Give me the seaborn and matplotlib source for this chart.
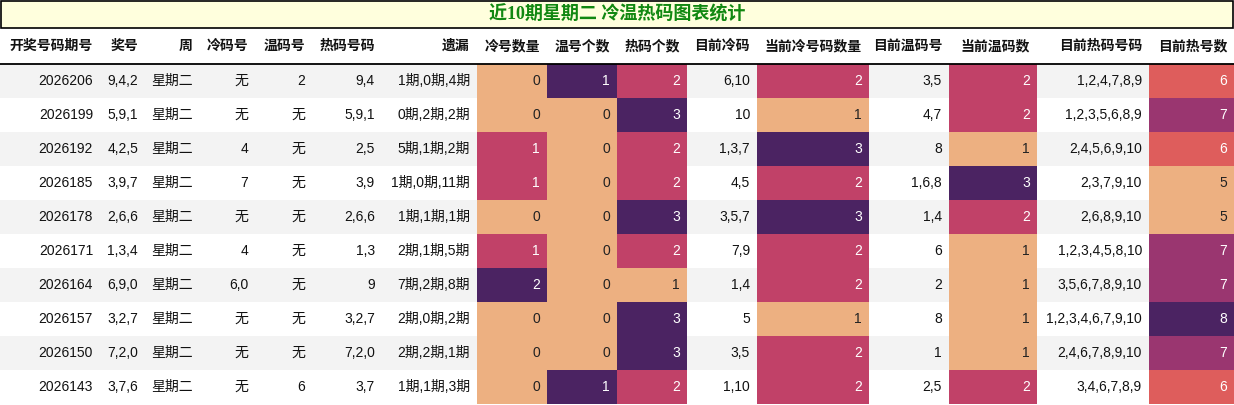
import matplotlib
matplotlib.use("Agg")
import matplotlib.pyplot as plt
from matplotlib.patches import Rectangle
from matplotlib.colors import Normalize
import seaborn as sns

sns.set_theme(style="white")
plt.rcParams['font.family'] = ['Liberation Sans', 'Noto Sans CJK SC', 'DejaVu Sans']

title = "近10期星期二 冷温热码图表统计"
headers = ["开奖号码期号", "奖号", "周", "冷码号", "温码号", "热码号码", "遗漏", "冷号数量", "温号个数",
           "热码个数", "目前冷码", "当前冷号码数量", "目前温码号", "当前温码数", "目前热码号码", "目前热号数"]
periods = ["2026206", "2026199", "2026192", "2026185", "2026178", "2026171", "2026164", "2026157", "2026150", "2026143"]
draws = ["9,4,2", "5,9,1", "4,2,5", "3,9,7", "2,6,6", "1,3,4", "6,9,0", "3,2,7", "7,2,0", "3,7,6"]
weekday = ["星期二"] * 10
cold = ["无", "无", "4", "7", "无", "4", "6,0", "无", "无", "无"]
warm = ["2", "无", "无", "无", "无", "无", "无", "无", "无", "6"]
hot = ["9,4", "5,9,1", "2,5", "3,9", "2,6,6", "1,3", "9", "3,2,7", "7,2,0", "3,7"]
miss = ["1期,0期,4期", "0期,2期,2期", "5期,1期,2期", "1期,0期,11期", "1期,1期,1期",
        "2期,1期,5期", "7期,2期,8期", "2期,0期,2期", "2期,2期,1期", "1期,1期,3期"]
cold_cnt = [0, 0, 1, 1, 0, 1, 2, 0, 0, 0]
warm_cnt = [1, 0, 0, 0, 0, 0, 0, 0, 0, 1]
hot_cnt = [2, 3, 2, 2, 3, 2, 1, 3, 3, 2]
cur_cold = ["6,10", "10", "1,3,7", "4,5", "3,5,7", "7,9", "1,4", "5", "3,5", "1,10"]
cur_cold_cnt = [2, 1, 3, 2, 3, 2, 2, 1, 2, 2]
cur_warm = ["3,5", "4,7", "8", "1,6,8", "1,4", "6", "2", "8", "1", "2,5"]
cur_warm_cnt = [2, 2, 1, 3, 2, 1, 1, 1, 1, 2]
cur_hot = ["1,2,4,7,8,9", "1,2,3,5,6,8,9", "2,4,5,6,9,10", "2,3,7,9,10", "2,6,8,9,10",
           "1,2,3,4,5,8,10", "3,5,6,7,8,9,10", "1,2,3,4,6,7,9,10", "2,4,6,7,8,9,10", "3,4,6,7,8,9"]
cur_hot_cnt = [6, 7, 6, 5, 5, 7, 7, 8, 7, 6]

columns = [periods, draws, weekday, cold, warm, hot, miss, cold_cnt, warm_cnt, hot_cnt,
           cur_cold, cur_cold_cnt, cur_warm, cur_warm_cnt, cur_hot, cur_hot_cnt]
edges = [0, 100, 145, 200, 255, 312, 382, 477, 547, 617, 687, 757, 869, 949, 1037, 1149, 1234]

W, H = 1234, 405
fig = plt.figure(figsize=(W / 100, H / 100), dpi=100)
ax = fig.add_axes([0, 0, 1, 1])
ax.set_xlim(0, W)
ax.set_ylim(H, 0)
ax.axis("off")

cmap = sns.color_palette("flare", as_cmap=True)

# title box
ax.add_patch(Rectangle((0.5, 0.5), W - 1.5, 27, facecolor="#FFFFDD", edgecolor="black", lw=1.2))
ax.text(W / 2, 14.5, title, ha="center", va="center", color="#118811", fontsize=13, fontweight="bold",
        family=['Liberation Serif', 'Noto Sans CJK SC'])

hy0, hy1 = 29, 63
row_h = 34
for j, h in enumerate(headers):
    ax.text(edges[j + 1] - 7, (hy0 + hy1) / 2, h, ha="right", va="center", fontsize=10, fontweight="bold",
            color="#111111")
ax.plot([0, W], [hy1 + 0.5, hy1 + 0.5], color="black", lw=1.3)

y0 = 64
for i in range(10):
    ya = y0 + i * row_h
    bg = "#F3F3F3" if i % 2 == 0 else "white"
    ax.add_patch(Rectangle((0, ya), W, row_h, facecolor=bg, edgecolor="none"))

for j, col in enumerate(columns):
    numeric = isinstance(col[0], int)
    if numeric:
        norm = Normalize(min(col), max(col))
    for i, v in enumerate(col):
        ya = y0 + i * row_h
        tc = "#111111"
        if numeric:
            frac = norm(v)
            ax.add_patch(Rectangle((edges[j], ya), edges[j + 1] - edges[j], row_h,
                                   facecolor=cmap(frac), edgecolor="none"))
            tc = "#222222" if frac < 0.05 else "white"
        ax.text(edges[j + 1] - 7, ya + row_h / 2, str(v), ha="right", va="center", fontsize=10, color=tc)

fig.savefig("out.png", dpi=100)
